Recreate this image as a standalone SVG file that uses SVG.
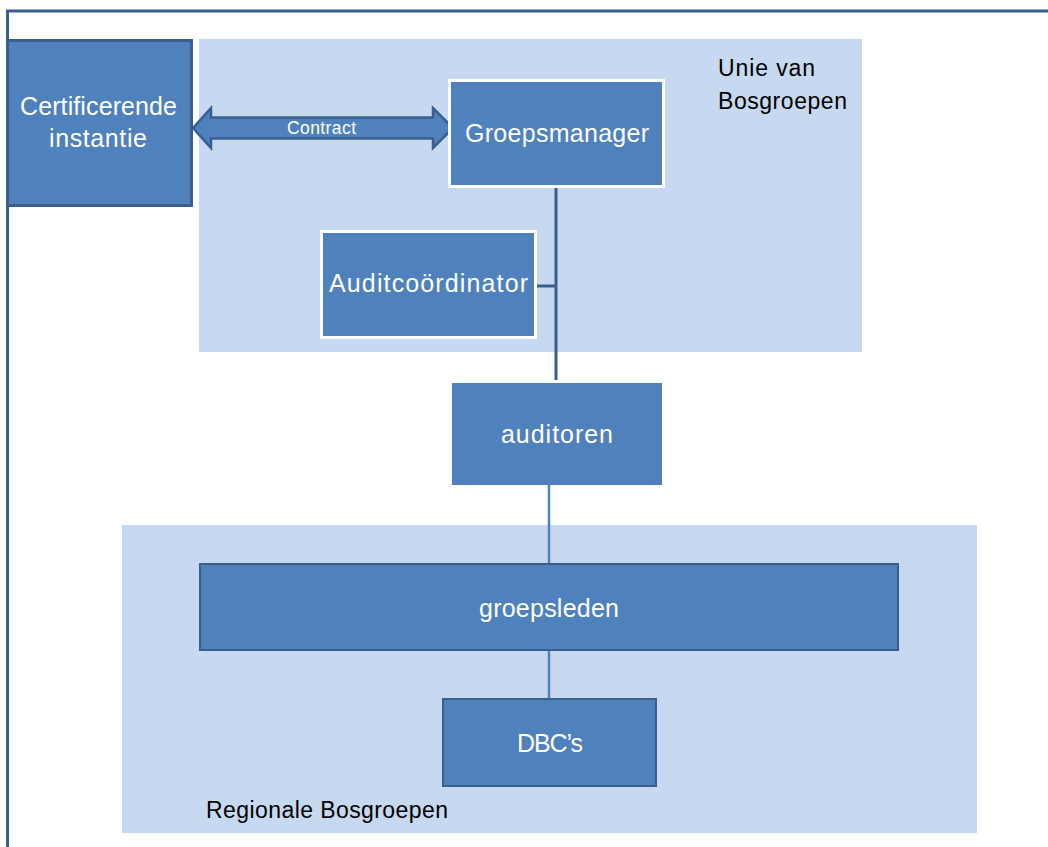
<svg xmlns="http://www.w3.org/2000/svg" width="1048" height="847" viewBox="0 0 1048 847">
<style>
.region{fill:#c6d9f0}
.node{fill:#4f81bd}
.dark{stroke:#3a5f8f;stroke-width:3}
.white{stroke:#ffffff;stroke-width:3}
.t{font-family:"Liberation Sans",Arial,sans-serif;font-size:25px;fill:#ffffff;text-anchor:middle}
.lbl{font-family:"Liberation Sans",Arial,sans-serif;font-size:23px;fill:#000000}
</style>
<rect width="1048" height="847" fill="#ffffff"/>
<g id="frame" fill="none" stroke="#3a5f8f" stroke-width="3">
<path d="M7.5 847 V11 H1048"/>
</g>
<g id="unie">
<rect class="region" x="199" y="39" width="663" height="313"/>
<text class="lbl" x="718" y="76" textLength="97">Unie van</text>
<text class="lbl" x="718" y="109" textLength="129">Bosgroepen</text>
</g>
<g id="regionale">
<rect class="region" x="122" y="525" width="855" height="308"/>
<text class="lbl" x="206" y="818" textLength="242">Regionale Bosgroepen</text>
</g>
<g id="connectors" fill="none">
<line x1="556" y1="188" x2="556" y2="380" stroke="#3a5f8f" stroke-width="3"/>
<line x1="536" y1="286" x2="556" y2="286" stroke="#3a5f8f" stroke-width="3"/>
<line x1="549" y1="485" x2="549" y2="563" stroke="#4f81bd" stroke-width="2.5"/>
<line x1="549" y1="651" x2="549" y2="698" stroke="#4f81bd" stroke-width="2.5"/>
<g id="contract">
<polygon points="193,128 211,108 211,117.5 433,117.5 433,108 453,128 433,148 433,138.5 211,138.5 211,148" fill="#4f81bd" stroke="#3a5f8f" stroke-width="2.5" stroke-linejoin="miter"/>
<text x="321.5" y="134" font-family="'Liberation Sans',Arial,sans-serif" font-size="17.5" fill="#ffffff" text-anchor="middle" textLength="69">Contract</text>
</g>
</g>
<g id="certificerende">
<rect class="node dark" x="7.5" y="40.5" width="184" height="165"/>
<text class="t" x="98.5" y="115" textLength="157">Certificerende</text>
<text class="t" x="98" y="147" textLength="98">instantie</text>
</g>
<g id="groepsmanager">
<rect class="node white" x="449.5" y="80.5" width="214" height="106"/>
<text class="t" x="557" y="142" textLength="184">Groepsmanager</text>
</g>
<g id="auditcoordinator">
<rect class="node white" x="321.5" y="231.5" width="214" height="106"/>
<text class="t" x="428.5" y="292" textLength="199">Auditcoördinator</text>
</g>
<g id="auditoren">
<rect class="node" x="452" y="383" width="210" height="102"/>
<text class="t" x="557" y="443" textLength="112">auditoren</text>
</g>
<g id="groepsleden">
<rect class="node" x="200" y="564" width="698" height="86" stroke="#3a5f8f" stroke-width="2"/>
<text class="t" x="549" y="617" textLength="140">groepsleden</text>
</g>
<g id="dbcs">
<rect class="node" x="443" y="699" width="213" height="87" stroke="#3a5f8f" stroke-width="2"/>
<text class="t" x="550" y="752" textLength="66">DBC’s</text>
</g>
</svg>
